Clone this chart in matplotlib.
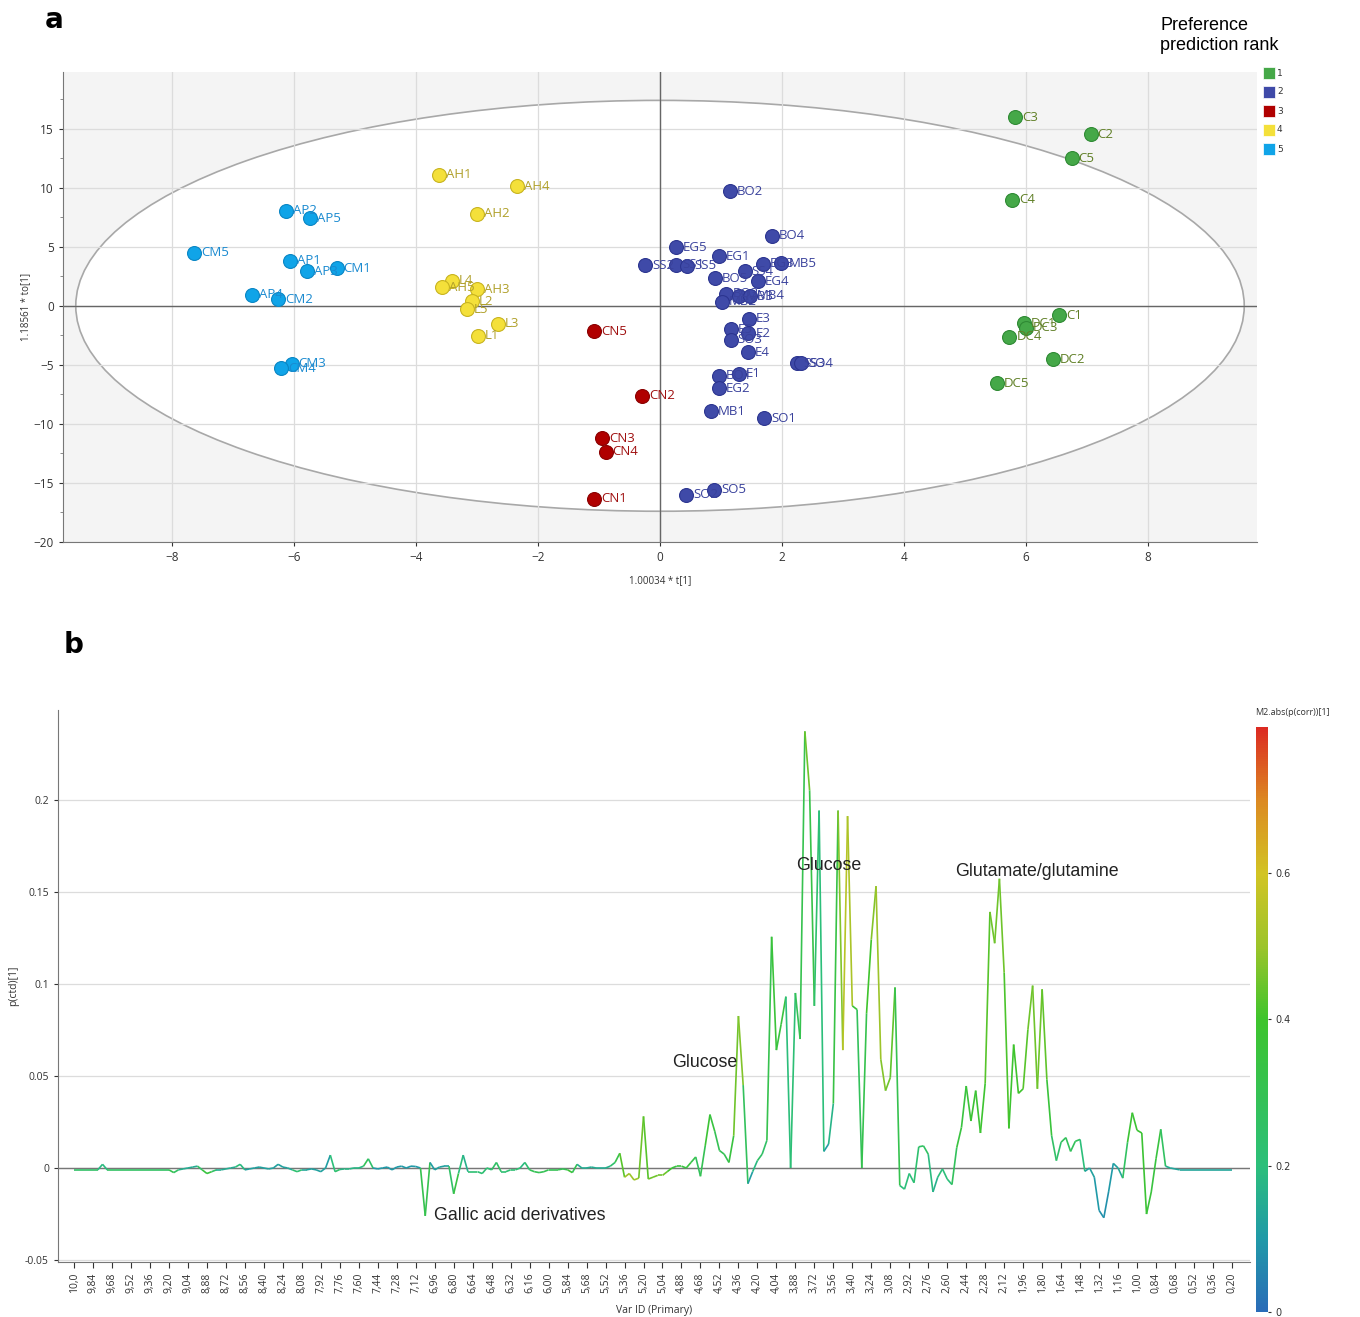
import numpy as np
import matplotlib
matplotlib.use("Agg")
import matplotlib.pyplot as plt
from matplotlib.patches import Ellipse, Rectangle
from matplotlib.collections import LineCollection
from matplotlib.colors import LinearSegmentedColormap, Normalize
from matplotlib.cm import ScalarMappable

# ---------------- data: panel a (scores) ----------------
rank5_names = ['CM5', 'AP2', 'AP5', 'AP1', 'AP3', 'CM1', 'AP4', 'CM2', 'CM3', 'CM4']
rank5_x = [-7.64, -6.13, -5.74, -6.07, -5.79, -5.30, -6.69, -6.26, -6.04, -6.21]
rank5_y = [4.49, 8.05, 7.42, 3.81, 2.91, 3.20, 0.93, 0.57, -4.90, -5.30]

rank4_names = ['AH1', 'AH4', 'AH2', 'L4', 'AH5', 'AH3', 'L2', 'L5', 'L3', 'L1']
rank4_x = [-3.63, -2.35, -3.00, -3.41, -3.58, -3.00, -3.08, -3.17, -2.66, -2.98]
rank4_y = [11.08, 10.11, 7.80, 2.14, 1.58, 1.41, 0.37, -0.28, -1.53, -2.54]

rank3_names = ['CN5', 'CN2', 'CN3', 'CN4', 'CN1']
rank3_x = [-1.08, -0.29, -0.95, -0.89, -1.08]
rank3_y = [-2.17, -7.63, -11.21, -12.34, -16.36]

rank2_names = ['BO2', 'BO4', 'EG5', 'SS2', 'SS1', 'SS5', 'EG1', 'EG3', 'MB5', 'SS4',
               'EG4', 'BO5', 'BO3', 'MB2', 'MB3', 'MB4', 'E3', 'E5', 'E2', 'SO3',
               'E4', 'SS3', 'SO4', 'BO1', 'E1', 'EG2', 'MB1', 'SO1', 'SO2', 'SO5']
rank2_x = [1.15, 1.83, 0.26, -0.24, 0.26, 0.45, 0.97, 1.69, 1.99, 1.39,
           1.60, 0.90, 1.08, 1.01, 1.30, 1.48, 1.46, 1.16, 1.45, 1.16,
           1.44, 2.24, 2.32, 0.97, 1.30, 0.96, 0.83, 1.71, 0.43, 0.89]
rank2_y = [9.69, 5.93, 4.97, 3.42, 3.47, 3.39, 4.18, 3.56, 3.62, 2.91,
           2.06, 2.35, 1.02, 0.36, 0.80, 0.85, -1.10, -1.97, -2.31, -2.88,
           -3.92, -4.86, -4.86, -5.93, -5.76, -6.97, -8.95, -9.52, -16.02, -15.59]

rank1_names = ['C3', 'C2', 'C5', 'C4', 'C1', 'DC1', 'DC3', 'DC4', 'DC2', 'DC5']
rank1_x = [5.82, 7.06, 6.75, 5.77, 6.54, 5.97, 6.00, 5.73, 6.44, 5.53]
rank1_y = [15.99, 14.55, 12.51, 8.98, -0.82, -1.47, -1.84, -2.60, -4.52, -6.55]

rank_labels = ['1', '2', '3', '4', '5']
rank_colors = ['#45a848', '#3f4aa8', '#b00000', '#f4e03a', '#10a4e8']
rank_edges = ['#2f8a34', '#2c3590', '#8a0000', '#c8b420', '#0a86c4']
rank_text = ['#5f7f25', '#3a429c', '#a01010', '#b0a02a', '#1a8ad0']

# ---------------- data: panel b (loadings) ----------------
ppm_ticks = ['10,0', '9,84', '9,68', '9,52', '9,36', '9,20', '9,04', '8,88', '8,72', '8,56',
             '8,40', '8,24', '8,08', '7,92', '7,76', '7,60', '7,44', '7,28', '7,12', '6,96',
             '6,80', '6,64', '6,48', '6,32', '6,16', '6,00', '5,84', '5,68', '5,52', '5,36',
             '5,20', '5,04', '4,88', '4,68', '4,52', '4,36', '4,20', '4,04', '3,88', '3,72',
             '3,56', '3,40', '3,24', '3,08', '2,92', '2,76', '2,60', '2,44', '2,28', '2,12',
             '1,96', '1,80', '1,64', '1,48', '1,32', '1,16', '1,00', '0,84', '0,68', '0,52',
             '0,36', '0,20']

p_ctd = [
    -0.001, -0.001, -0.001, -0.001, -0.001, -0.001, 0.002, -0.001, -0.001, -0.001,
    -0.001, -0.001, -0.001, -0.001, -0.001, -0.001, -0.001, -0.001, -0.001, -0.001,
    -0.001, -0.0025, -0.001, -0.0005, 0.0, 0.0005, 0.001, -0.001, -0.003, -0.002,
    -0.001, -0.001, -0.0005, 0.0, 0.0005, 0.002, -0.001, -0.0005, 0.0, 0.0005,
    0.0, -0.0005, 0.0, 0.002, 0.0005, 0.0, -0.001, -0.002, -0.001, -0.001,
    -0.0005, -0.001, -0.002, 0.0, 0.007, -0.002, -0.0008, -0.0005, -0.0005, 0.0,
    0.0, 0.001, 0.005, 0.0, -0.0005, 0.0, 0.0005, -0.001, 0.0005, 0.001,
    0.0, 0.001, 0.0008, 0.0, -0.026, 0.003, -0.001, 0.0005, 0.001, 0.001,
    -0.014, -0.003, 0.007, -0.002, -0.002, -0.002, -0.003, 0.0, -0.001, 0.003,
    -0.002, -0.002, -0.001, -0.001, 0.0, 0.003, -0.001, -0.002, -0.0025, -0.002,
    -0.001, -0.001, -0.001, -0.0005, -0.001, -0.0025, 0.002, 0.0, 0.0, 0.0005,
    0.0, 0.0, 0.0, 0.001, 0.003, 0.008, -0.005, -0.003, -0.0065, -0.0055,
    0.028, -0.006, -0.005, -0.004, -0.004, -0.002, 0.0, 0.001, 0.001, 0.0,
    0.003, 0.006, -0.0045, 0.012, 0.029, 0.02, 0.0095, 0.0075, 0.003, 0.0175,
    0.0825, 0.045, -0.0085, -0.002, 0.004, 0.0075, 0.015, 0.1255, 0.064, 0.078,
    0.093, 0.0, 0.095, 0.07, 0.237, 0.205, 0.088, 0.194, 0.009, 0.013,
    0.035, 0.194, 0.064, 0.191, 0.088, 0.086, 0.0, 0.084, 0.124, 0.153,
    0.059, 0.042, 0.049, 0.098, -0.0095, -0.0115, -0.003, -0.008, 0.0115, 0.012,
    0.0075, -0.013, -0.005, -0.0005, -0.006, -0.009, 0.011, 0.022, 0.0445, 0.0255,
    0.042, 0.019, 0.046, 0.139, 0.122, 0.157, 0.106, 0.0215, 0.067, 0.0405,
    0.043, 0.075, 0.099, 0.043, 0.097, 0.048, 0.0175, 0.004, 0.014, 0.0165,
    0.009, 0.0145, 0.0155, -0.0018, 0.0, -0.005, -0.023, -0.027, -0.013, 0.0025,
    0.0, -0.0055, 0.014, 0.03, 0.0205, 0.019, -0.025, -0.013, 0.005, 0.021,
    0.001, 0.0, -0.0005, -0.001, -0.001, -0.001, -0.001, -0.001, -0.001, -0.001,
    -0.001, -0.001, -0.001, -0.001, -0.001,
]

p_corr = [
    0.25, 0.25, 0.25, 0.25, 0.25, 0.25, 0.12, 0.26, 0.26, 0.26,
    0.26, 0.26, 0.26, 0.26, 0.26, 0.26, 0.26, 0.26, 0.26, 0.26,
    0.26, 0.35, 0.18, 0.15, 0.15, 0.15, 0.15, 0.35, 0.35, 0.35,
    0.15, 0.15, 0.15, 0.15, 0.15, 0.25, 0.12, 0.12, 0.12, 0.12,
    0.12, 0.12, 0.12, 0.12, 0.12, 0.12, 0.15, 0.3, 0.15, 0.12,
    0.12, 0.12, 0.12, 0.12, 0.1, 0.3, 0.18, 0.18, 0.18, 0.18,
    0.18, 0.2, 0.38, 0.1, 0.1, 0.1, 0.1, 0.1, 0.1, 0.1,
    0.1, 0.1, 0.1, 0.1, 0.52, 0.1, 0.12, 0.12, 0.12, 0.12,
    0.38, 0.3, 0.1, 0.22, 0.22, 0.22, 0.22, 0.22, 0.22, 0.28,
    0.22, 0.22, 0.22, 0.22, 0.22, 0.15, 0.3, 0.3, 0.3, 0.3,
    0.3, 0.3, 0.3, 0.3, 0.3, 0.45, 0.15, 0.15, 0.15, 0.15,
    0.15, 0.15, 0.15, 0.18, 0.3, 0.35, 0.5, 0.5, 0.5, 0.5,
    0.4, 0.45, 0.45, 0.45, 0.45, 0.45, 0.35, 0.35, 0.35, 0.35,
    0.35, 0.3, 0.25, 0.35, 0.4, 0.3, 0.3, 0.3, 0.3, 0.4,
    0.5, 0.45, 0.1, 0.12, 0.25, 0.25, 0.25, 0.38, 0.35, 0.35,
    0.35, 0.05, 0.38, 0.2, 0.42, 0.48, 0.18, 0.3, 0.1, 0.12,
    0.22, 0.45, 0.5, 0.6, 0.45, 0.28, 0.28, 0.35, 0.45, 0.5,
    0.5, 0.45, 0.45, 0.42, 0.2, 0.2, 0.2, 0.2, 0.26, 0.26,
    0.26, 0.12, 0.2, 0.2, 0.2, 0.2, 0.35, 0.35, 0.35, 0.38,
    0.38, 0.38, 0.4, 0.45, 0.45, 0.45, 0.45, 0.38, 0.4, 0.4,
    0.4, 0.45, 0.45, 0.45, 0.45, 0.42, 0.3, 0.2, 0.28, 0.28,
    0.28, 0.28, 0.28, 0.12, 0.12, 0.12, 0.08, 0.08, 0.08, 0.12,
    0.12, 0.15, 0.38, 0.38, 0.38, 0.38, 0.38, 0.35, 0.35, 0.35,
    0.18, 0.13, 0.13, 0.13, 0.13, 0.13, 0.13, 0.13, 0.13, 0.13,
    0.13, 0.13, 0.13, 0.13, 0.13,
]

annot_text = ['Glucose', 'Glucose', 'Glutamate/glutamine', 'Gallic acid derivatives']
annot_x = [159.0, 133.0, 203.0, 75.8]
annot_y = [0.164, 0.057, 0.161, -0.026]

# ---------------- figure ----------------
fig = plt.figure(figsize=(13.6, 13.17), dpi=100)
tick_font = ['Open Sans', 'DejaVu Sans']

# ===== panel a =====
ax = fig.add_axes([0.0463, 0.5885, 0.878, 0.3568])
ax.set_facecolor('#f4f4f4')
ax.set_xlim(-9.79, 9.79)
ax.set_ylim(-20, 19.8)
ax.set_xticks([-8, -6, -4, -2, 0, 2, 4, 6, 8])
ax.set_yticks([-20, -15, -10, -5, 0, 5, 10, 15])
ax.set_yticks(np.arange(-20, 20, 2.5), minor=True)
ax.grid(True, color='#dcdcdc', lw=0.9)
ax.set_axisbelow(True)
ax.add_patch(Ellipse((0, 0), 2 * 9.58, 2 * 17.4, facecolor='white',
                     edgecolor='#a8a8a8', lw=1.2, zorder=0))
ax.axhline(0, color='#666666', lw=1.0, zorder=1)
ax.axvline(0, color='#666666', lw=1.0, zorder=1)
for s in ['top', 'right']:
    ax.spines[s].set_visible(False)
for s in ['left', 'bottom']:
    ax.spines[s].set_color('#777777')
ax.tick_params(labelsize=8.5, colors='#333333', length=3, width=0.8)
ax.tick_params(which='minor', length=2, colors='#777777')
for lab in ax.get_xticklabels() + ax.get_yticklabels():
    lab.set_family(tick_font)
ax.set_xlabel('1.00034 * t[1]', fontsize=7, color='#333333', labelpad=8, family=tick_font)
ax.set_ylabel('1.18561 * to[1]', fontsize=7, color='#333333', labelpad=2, family=tick_font)

groups = [(rank1_names, rank1_x, rank1_y), (rank2_names, rank2_x, rank2_y),
          (rank3_names, rank3_x, rank3_y), (rank4_names, rank4_x, rank4_y),
          (rank5_names, rank5_x, rank5_y)]
for gi, (names, xs, ys) in enumerate(groups):
    ax.scatter(xs, ys, s=100, color=rank_colors[gi], edgecolor=rank_edges[gi],
               linewidth=0.8, zorder=3)
    for n, xv, yv in zip(names, xs, ys):
        ax.annotate(n, (xv, yv), xytext=(5, 0), textcoords='offset points',
                    va='center', ha='left', fontsize=9.5, color=rank_text[gi],
                    family=tick_font, zorder=4)

fig.text(0.033, 0.985, 'a', fontsize=20, fontweight='bold', va='center', ha='left')
fig.text(0.853, 0.973, 'Preference\nprediction rank', fontsize=13, va='center', ha='left',
         family=['Liberation Sans Narrow', 'Liberation Sans'], linespacing=1.25)
for i, (lab, col) in enumerate(zip(rank_labels, rank_colors)):
    ytop = 67 + i * 19
    fig.add_artist(Rectangle((1263 / 1360, 1 - (ytop + 12) / 1317), 12 / 1360, 12 / 1317,
                             transform=fig.transFigure, facecolor=col,
                             edgecolor='white', lw=0.5))
    fig.text(1277 / 1360, 1 - (ytop + 6) / 1317, lab, fontsize=6.5, va='center',
             ha='left', color='#333333')

# ===== panel b =====
bx = fig.add_axes([0.0426, 0.0418, 0.8765, 0.4191])
idx = np.arange(len(p_ctd))
vals = np.array(p_ctd)
corr = np.array(p_corr)
pts = np.column_stack([idx, vals])
segs = np.stack([pts[:-1], pts[1:]], axis=1)

cmap = LinearSegmentedColormap.from_list('simca', [
    (0.0, '#2a6cb8'), (0.125, '#209aa8'), (0.25, '#2cbf7a'), (0.5, '#3ec42c'),
    (0.625, '#9cc42a'), (0.75, '#d2c424'), (0.875, '#dc8a22'), (1.0, '#dc2a22')])
norm = Normalize(0, 0.8)
lc = LineCollection(segs, cmap=cmap, norm=norm, linewidth=1.2, zorder=3)
lc.set_array((corr[:-1] + corr[1:]) / 2)
bx.add_collection(lc)

bx.set_xlim(-3.4, 247.8)
bx.set_ylim(-0.051, 0.2486)
bx.set_yticks([-0.05, 0, 0.05, 0.1, 0.15, 0.2])
bx.set_yticklabels(['-0.05', '0', '0.05', '0.1', '0.15', '0.2'])
bx.yaxis.grid(True, color='#dcdcdc', lw=0.9)
bx.set_axisbelow(True)
bx.axhline(0, color='#777777', lw=1.0, zorder=2)
bx.set_xticks(np.arange(0, 4 * len(ppm_ticks), 4))
bx.set_xticklabels(ppm_ticks, rotation=90, fontsize=7.5)
for s in ['top', 'right']:
    bx.spines[s].set_visible(False)
for s in ['left', 'bottom']:
    bx.spines[s].set_color('#777777')
bx.tick_params(axis='y', labelsize=7.5, colors='#333333', length=3)
bx.tick_params(axis='x', colors='#333333', length=4)
for lab in bx.get_xticklabels() + bx.get_yticklabels():
    lab.set_family(tick_font)
bx.set_xlabel('Var ID (Primary)', fontsize=7.5, color='#333333', labelpad=9, family=tick_font)
bx.set_ylabel('p(ctd)[1]', fontsize=7.5, color='#333333', labelpad=4, family=tick_font)

for t, xv, yv in zip(annot_text, annot_x, annot_y):
    ha = 'left' if t.startswith('Gallic') else 'center'
    bx.text(xv, yv, t, fontsize=12.8, ha=ha, va='center', color='#222222',
            family=['Liberation Sans', 'DejaVu Sans'], zorder=4)

fig.text(0.047, 0.51, 'b', fontsize=20, fontweight='bold', va='center', ha='left')

cax = fig.add_axes([0.9235, 0.0038, 0.0088, 0.4442])
cb = fig.colorbar(ScalarMappable(norm=norm, cmap=cmap), cax=cax)
cb.outline.set_visible(False)
cb.set_ticks([0, 0.2, 0.4, 0.6])
cb.set_ticklabels(['0', '0.2', '0.4', '0.6'])
cax.tick_params(labelsize=7, colors='#333333', length=2)
fig.text(1255 / 1360, 1 - 712 / 1317, 'M2.abs(p(corr))[1]', fontsize=6.5, ha='left',
         va='center', color='#333333', family=tick_font)

fig.savefig('out.png', dpi=100)
